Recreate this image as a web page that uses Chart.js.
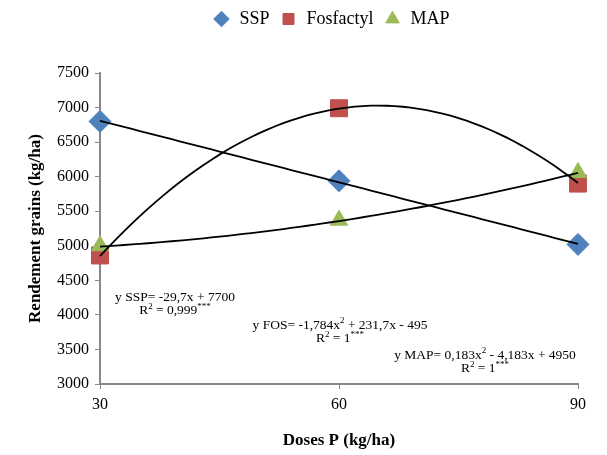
<!DOCTYPE html>
<html>
<head>
<meta charset="utf-8">
<script src="https://cdn.jsdelivr.net/npm/chart.js@4"></script>
<style>
  body { margin: 0; background: #fff; }
  #wrap { width: 607px; height: 455px; }
</style>
</head>
<body>
<div id="wrap"><canvas id="chart"></canvas></div>
<script>
// doses P (kg/ha)
var doses = [30, 60, 90];
// rendement grains (kg/ha)
var ssp_values = [6800, 5940, 5020];
var fos_values = [4860, 6990, 5900];
var map_values = [5000, 5370, 6060];

// courbes de tendance (coefficients affichés sur le graphique: a, b, c pour ax² + bx + c)
var ssp_coef = [0, -29.7, 7700];
var fos_coef = [-1.784, 231.7, -495];
var map_coef = [0.183, -4.183, 4950];

var y_ticks = [3000, 3500, 4000, 4500, 5000, 5500, 6000, 6500, 7000, 7500];

var equations = [
  {lines: [[['y SSP= -29,7x + 7700']], [['R'], ['2', true], [' = 0,999'], ['***', true]]], x: 175, y: 297},
  {lines: [[['y FOS= -1,784x'], ['2', true], [' + 231,7x - 495']], [['R'], ['2', true], [' = 1'], ['***', true]]], x: 340, y: 325},
  {lines: [[['y MAP= 0,183x'], ['2', true], [' - 4,183x + 4950']], [['R'], ['2', true], [' = 1'], ['***', true]]], x: 485, y: 355}
];

var FONT = "'Liberation Serif', serif";

function points(values){
  return doses.map(function(d, i){ return {x: d, y: values[i]}; });
}

function trend(coef){
  var pts = [];
  for (var x = doses[0]; x <= doses[doses.length - 1]; x += 1) {
    pts.push({x: x, y: coef[0] * x * x + coef[1] * x + coef[2]});
  }
  return pts;
}

function trend_dataset(coef){
  return {
    label: '',
    data: trend(coef),
    showLine: true,
    borderColor: '#000',
    borderWidth: 1.8,
    pointRadius: 0,
    pointHoverRadius: 0,
    fill: false,
    tension: 0,
    clip: false,
    order: 0
  };
}

var equation_plugin = {
  id: 'equations',
  afterDatasetsDraw: function(chart){
    var ctx = chart.ctx;
    ctx.save();
    ctx.fillStyle = '#000';
    ctx.textBaseline = 'middle';
    equations.forEach(function(eq){
      eq.lines.forEach(function(parts, li){
        var total = 0;
        parts.forEach(function(p){
          ctx.font = (p[1] ? 9 : 13.5) + 'px ' + FONT;
          total += ctx.measureText(p[0]).width;
        });
        var x = eq.x - total / 2;
        var y = eq.y + li * 13.5;
        parts.forEach(function(p){
          ctx.font = (p[1] ? 9 : 13.5) + 'px ' + FONT;
          ctx.textAlign = 'left';
          ctx.fillText(p[0], x, p[1] ? y - 4 : y);
          x += ctx.measureText(p[0]).width;
        });
      });
    });
    ctx.restore();
  }
};

// marge sous la légende, et légende un peu décalée à droite
var legend_margin = {
  id: 'legend_margin',
  beforeInit: function(chart){
    var fit = chart.legend.fit;
    chart.legend.fit = function(){
      fit.bind(chart.legend)();
      this.height += 35;
    };
  },
  afterLayout: function(chart){
    chart.legend.left += 42;
    chart.legend.right += 42;
  }
};

var chart_rendement = document.getElementById('chart').getContext('2d');

var mychart = new Chart(chart_rendement, {
  type: 'scatter',
  data: {
    datasets: [
      {label: 'SSP', data: points(ssp_values), pointStyle: 'rectRot', pointRadius: 11, pointHoverRadius: 11,
       backgroundColor: '#4F81BD', borderColor: '#4F81BD', clip: false, order: 3},
      {label: 'Fosfactyl', data: points(fos_values), pointStyle: 'rect', pointRadius: 12, pointHoverRadius: 12,
       backgroundColor: '#C0504D', borderColor: '#C0504D', clip: false, order: 2},
      {label: 'MAP', data: points(map_values), pointStyle: 'triangle', pointRadius: 10, pointHoverRadius: 10,
       backgroundColor: '#9BBB59', borderColor: '#9BBB59', clip: false, order: 1},
      trend_dataset(ssp_coef),
      trend_dataset(fos_coef),
      trend_dataset(map_coef)
    ]
  },
  options: {
    responsive: true,
    maintainAspectRatio: false,
    animation: false,
    layout: {padding: {top: 0, right: 29, left: 0, bottom: 0}},
    plugins: {
      tooltip: {enabled: false},
      legend: {
        display: true,
        position: 'top',
        labels: {
          usePointStyle: true,
          boxHeight: 11,
          padding: 10,
          color: '#000',
          font: {family: FONT, size: 18},
          filter: function(item){ return item.text !== ''; },
          sort: function(a, b){ return a.datasetIndex - b.datasetIndex; }
        }
      }
    },
    scales: {
      x: {
        type: 'linear',
        min: 30,
        max: 90,
        afterBuildTicks: function(scale){ scale.ticks = doses.map(function(v){ return {value: v}; }); },
        afterFit: function(scale){ scale.height = 71; },
        grid: {drawOnChartArea: false, drawTicks: true, tickLength: 5, color: '#878787'},
        border: {color: '#878787', width: 2},
        ticks: {color: '#000', font: {family: FONT, size: 16}, padding: 6,
                callback: function(v){ return String(v); }},
        title: {display: true, text: 'Doses P (kg/ha)', color: '#000', font: {family: FONT, size: 17, weight: 'bold'}, padding: {top: 18}}
      },
      y: {
        min: 3000,
        max: 7500,
        afterBuildTicks: function(scale){ scale.ticks = y_ticks.map(function(v){ return {value: v}; }); },
        afterFit: function(scale){ scale.width = 100; },
        grid: {drawOnChartArea: false, drawTicks: true, tickLength: 5, color: '#878787'},
        border: {color: '#878787', width: 2},
        ticks: {color: '#000', font: {family: FONT, size: 16}, padding: 6,
                callback: function(v){ return String(v); }},
        title: {display: true, text: 'Rendement grains (kg/ha)', color: '#000', font: {family: FONT, size: 17, weight: 'bold'}, padding: {top: 25, bottom: 6}}
      }
    }
  },
  plugins: [equation_plugin, legend_margin]
});
</script>
</body>
</html>
